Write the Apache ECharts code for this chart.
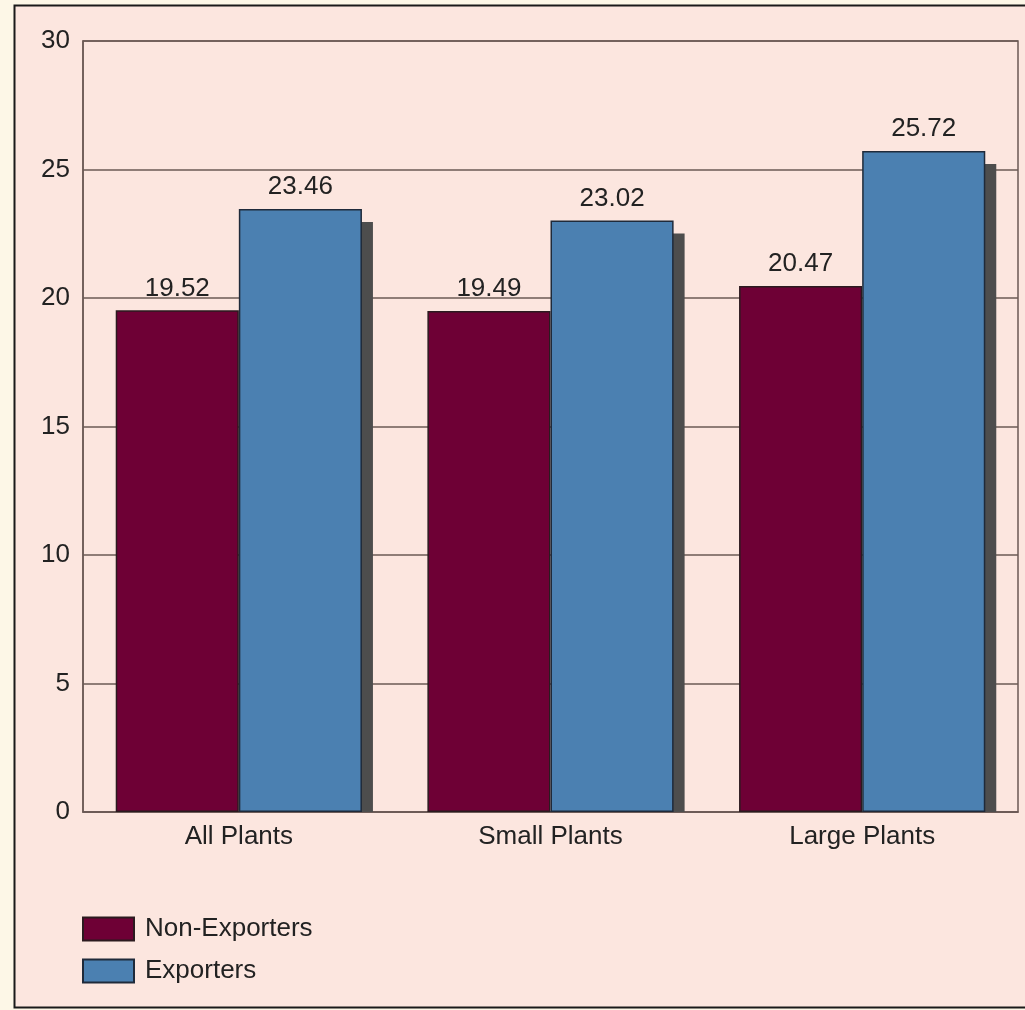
<!DOCTYPE html>
<html>
<head>
<meta charset="utf-8">
<script src="https://cdn.jsdelivr.net/npm/echarts@6/dist/echarts.min.js"></script>
<style>
html,body{margin:0;padding:0;background:#fdf7e7;}
#chart{width:1025px;height:1010px;}
</style>
</head>
<body>
<div id="chart"></div>
<script>
var categories = ['All Plants', 'Small Plants', 'Large Plants'];
var nonExporters = [19.52, 19.49, 20.47];
var exporters = [23.46, 23.02, 25.72];
var seriesNames = ['Non-Exporters', 'Exporters'];
var yTicks = [0, 5, 10, 15, 20, 25, 30];

var chart = echarts.init(document.getElementById('chart'), null, {renderer: 'canvas'});
var FONT = '"Liberation Sans", Arial, sans-serif';
var FS = 26;
var catGap = 0.21;

var option = {
  backgroundColor: '#fdf7e7',
  animation: false,
  graphic: [{
    type: 'rect',
    z: -10,
    silent: true,
    shape: {x: 14.5, y: 5.5, width: 1030, height: 1002},
    style: {fill: '#fce6df', stroke: '#1a1a1a', lineWidth: 2}
  }],
  grid: {
    left: 83, right: 7, top: 41, bottom: 198,
    show: true, borderColor: '#6b5a55', borderWidth: 1.5,
    backgroundColor: 'transparent'
  },
  legend: {
    orient: 'vertical',
    left: 82, top: 916, padding: 0,
    itemWidth: 51, itemHeight: 23, itemGap: 16,
    icon: 'rect',
    textStyle: {fontFamily: FONT, fontSize: FS, color: '#222', padding: [0, 0, 0, 6]},
    data: seriesNames
  },
  xAxis: {
    type: 'category',
    data: categories,
    axisLine: {show: true, lineStyle: {color: '#6b5a55', width: 1.5}},
    axisTick: {show: false},
    axisLabel: {fontFamily: FONT, fontSize: FS, color: '#222', margin: 12}
  },
  yAxis: {
    type: 'value',
    min: yTicks[0], max: yTicks[yTicks.length - 1], interval: 5,
    axisLine: {show: true, lineStyle: {color: '#6b5a55', width: 1.5}},
    axisTick: {show: false},
    splitLine: {show: true, lineStyle: {color: '#6b5a55', width: 1.5}},
    axisLabel: {fontFamily: FONT, fontSize: FS, color: '#222', margin: 13}
  },
  series: [
    {
      type: 'custom',
      name: 'shadow',
      z: 1,
      silent: true,
      data: exporters.map(function (v, i) { return [i, v]; }),
      renderItem: function (params, api) {
        var top = api.coord([api.value(0), api.value(1)]);
        var base = api.coord([api.value(0), 0]);
        var catW = api.size([1, 0])[0];
        var barW = catW * (1 - catGap) / 2;
        return {
          type: 'rect',
          shape: {x: top[0] + 11, y: top[1] + 13, width: barW, height: base[1] - top[1] - 13},
          style: {fill: '#4d4d4d'}
        };
      }
    },
    {
      type: 'bar',
      name: seriesNames[0],
      data: nonExporters,
      z: 3,
      barGap: '0%',
      barCategoryGap: (catGap * 100) + '%',
      itemStyle: {color: '#6e0035', borderColor: '#2b1a1f', borderWidth: 1.5},
      label: {show: true, position: 'top', distance: 9, fontFamily: FONT, fontSize: FS, color: '#222', formatter: function (p) { return p.value.toFixed(2); }}
    },
    {
      type: 'bar',
      name: seriesNames[1],
      data: exporters,
      z: 3,
      barGap: '0%',
      barCategoryGap: (catGap * 100) + '%',
      itemStyle: {color: '#4b80b1', borderColor: '#1f2a3a', borderWidth: 1.5},
      label: {show: true, position: 'top', distance: 9, fontFamily: FONT, fontSize: FS, color: '#222', formatter: function (p) { return p.value.toFixed(2); }}
    }
  ]
};
chart.setOption(option);
</script>
</body>
</html>
